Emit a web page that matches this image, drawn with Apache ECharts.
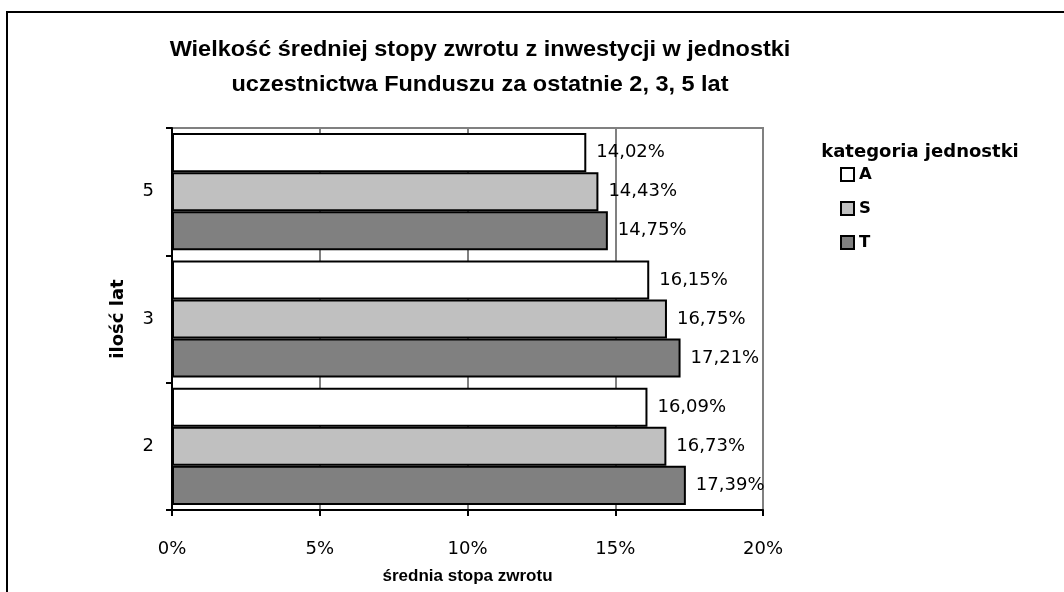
<!DOCTYPE html>
<html><head><meta charset="utf-8">
<script src="https://cdn.jsdelivr.net/npm/echarts@6/dist/echarts.min.js"></script>
<style>html,body{margin:0;padding:0;background:#fff}#c{width:1064px;height:592px}</style>
</head><body><div id="c"></div>
<script>
var categories = ['5', '3', '2'];
var seriesNames = ['A', 'S', 'T'];
var valuesA = [14.02, 16.15, 16.09];
var valuesS = [14.43, 16.75, 16.73];
var valuesT = [14.75, 17.21, 17.39];
var xTicks = [0, 5, 10, 15, 20];
var colors = ['#FFFFFF', '#C0C0C0', '#808080'];

var F = 'Liberation Sans, Arial, sans-serif';
var D = 'DejaVu Sans, sans-serif';
var chart = echarts.init(document.getElementById('c'));
function fmt(p){ return p.value.toFixed(2).replace('.', ',') + '%'; }
var allVals = [valuesA, valuesS, valuesT];
var series = seriesNames.map(function(n, i){
  return {
    name: n, type: 'bar', data: allVals[i],
    barGap: '0%', barCategoryGap: '8%',
    itemStyle: {color: colors[i], borderColor: '#000', borderWidth: 2},
    label: {show: true, position: 'right', distance: 10, formatter: fmt,
            color: '#000', fontFamily: D, fontSize: 18},
    emphasis: {disabled: true}, animation: false
  };
});
chart.setOption({
  animation: false,
  graphic: [
    {type: 'rect', shape: {x: 7, y: 12, width: 1200, height: 800},
     style: {fill: 'none', stroke: '#000', lineWidth: 2}, silent: true},
    {type: 'text', x: 480, y: 50, scaleX: 1.067, style: {text: 'Wielkość średniej stopy zwrotu z inwestycji w jednostki',
      font: 'bold 22px ' + F, fill: '#000', align: 'center', verticalAlign: 'middle'}},
    {type: 'text', x: 480, y: 85, scaleX: 1.067, style: {text: 'uczestnictwa Funduszu za ostatnie 2, 3, 5 lat',
      font: 'bold 22px ' + F, fill: '#000', align: 'center', verticalAlign: 'middle'}},
    {type: 'text', x: 920, y: 152, style: {text: 'kategoria jednostki', font: 'bold 18px ' + D,
      fill: '#000', align: 'center', verticalAlign: 'middle'}}
  ],
  legend: {
    orient: 'vertical', left: 835, top: 161, itemWidth: 13, itemHeight: 13, itemGap: 17,
    icon: 'rect', data: seriesNames,
    itemStyle: {borderColor: '#000', borderWidth: 2},
    textStyle: {fontFamily: D, fontSize: 16.5, fontWeight: 'bold', color: '#000'},
    selectedMode: false
  },
  grid: {left: 172, right: 301, top: 128, bottom: 82, show: true, borderColor: '#808080', borderWidth: 2, backgroundColor: '#fff'},
  xAxis: {
    type: 'value', min: 0, max: 20, interval: 5,
    name: 'średnia stopa zwrotu', nameLocation: 'middle', nameGap: 58,
    nameTextStyle: {fontFamily: F, fontSize: 17, fontWeight: 'bold', color: '#000'},
    axisLine: {show: true, lineStyle: {color: '#000', width: 2}},
    axisTick: {show: true, length: 6, lineStyle: {color: '#000', width: 2}},
    axisLabel: {fontFamily: D, fontSize: 18, color: '#000', margin: 30,
      formatter: function(v){ return xTicks.indexOf(v) >= 0 ? v + '%' : ''; }},
    splitLine: {show: true, lineStyle: {color: '#808080', width: 2}}
  },
  yAxis: {
    type: 'category', data: categories, inverse: true,
    name: 'ilość lat', nameLocation: 'middle', nameGap: 45, nameRotate: 90,
    nameTextStyle: {fontFamily: D, fontSize: 18, fontWeight: 'bold', color: '#000'},
    axisLine: {show: true, lineStyle: {color: '#000', width: 2}},
    axisTick: {show: true, length: 6, lineStyle: {color: '#000', width: 2}},
    axisLabel: {fontFamily: D, fontSize: 18, color: '#000', margin: 18},
    splitLine: {show: false}
  },
  series: series
});
</script></body></html>
